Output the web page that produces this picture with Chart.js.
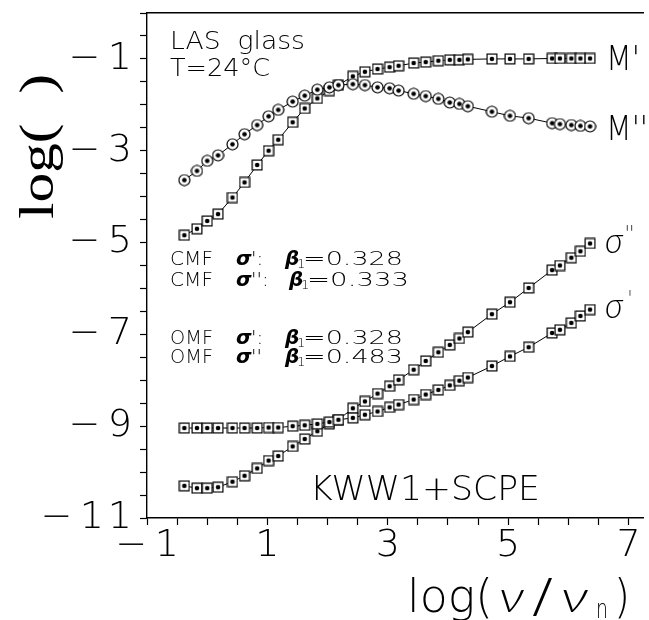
<!DOCTYPE html>
<html>
<head>
<meta charset="utf-8">
<script src="https://cdn.jsdelivr.net/npm/chart.js@4.4.1/dist/chart.umd.min.js"></script>
<style>
  html, body { margin: 0; padding: 0; background: #fff; }
  canvas { display: block; }
</style>
</head>
<body>
<canvas id="grafico" width="649" height="620"></canvas>
<script>
// frequenze (log10 nu/nu_n) comuni a tutte le serie
const logFreq = [-0.38, -0.17, 0, 0.18, 0.42, 0.62, 0.83, 1.02, 1.18, 1.42, 1.62, 1.83,
  2.03, 2.18, 2.42, 2.62, 2.83, 3.03, 3.18, 3.43, 3.63, 3.84, 4.03, 4.19, 4.33,
  4.73, 5.03, 5.34, 5.73, 5.86, 6.05, 6.2, 6.36];

// log M'
const logMreal = [-4.84, -4.70, -4.53, -4.38, -4.02, -3.69, -3.31, -3.00, -2.76, -2.38, -2.08, -1.86,
  -1.69, -1.57, -1.38, -1.28, -1.22, -1.18, -1.15, -1.09, -1.07, -1.04, -1.02, -1.02, -1.01,
  -1.00, -1.00, -1.00, -0.99, -0.99, -0.99, -0.99, -0.99];

// log M''
const logMimag = [-3.64, -3.44, -3.22, -3.10, -2.86, -2.64, -2.44, -2.25, -2.11, -1.93, -1.80, -1.67,
  -1.62, -1.57, -1.55, -1.57, -1.62, -1.64, -1.69, -1.76, -1.81, -1.87, -1.95, -1.98, -2.03,
  -2.15, -2.24, -2.29, -2.40, -2.42, -2.44, -2.46, -2.47];

// log sigma'
const logSigReal = [-9.04, -9.04, -9.04, -9.04, -9.04, -9.04, -9.04, -9.03, -9.03, -9.00, -8.98, -8.95,
  -8.91, -8.86, -8.82, -8.75, -8.68, -8.59, -8.53, -8.42, -8.31, -8.21, -8.11, -8.01, -7.94,
  -7.69, -7.48, -7.28, -6.97, -6.90, -6.75, -6.60, -6.46];

// log sigma''
const logSigImag = [-10.30, -10.35, -10.35, -10.33, -10.21, -10.08, -9.92, -9.75, -9.65, -9.44, -9.28, -9.11,
  -8.95, -8.86, -8.61, -8.46, -8.29, -8.13, -7.99, -7.77, -7.58, -7.39, -7.23, -7.09, -6.95,
  -6.56, -6.30, -5.99, -5.60, -5.50, -5.33, -5.19, -5.02];

// tacche con etichetta
const xTickValues = [-1, 1, 3, 5, 7];
const yTickValues = [-1, -3, -5, -7, -9, -11];

const FONT = '"DejaVu Sans"';
const GRECO = 'Lato, "Liberation Sans"';

// etichetta numerica con il meno tipografico staccato
function etichetta(v) {
  if (v >= 0) return String(v);
  return '\u2212\u2009' + String(-v).split('').join('\u200a');
}

// marker: quadrato o cerchio vuoto con punto pieno al centro
function marker(tipo) {
  const s = tipo === 'cerchio' ? 13 : 12;
  const c = document.createElement('canvas');
  c.width = s; c.height = s;
  const g = c.getContext('2d');
  g.fillStyle = '#fff';
  g.strokeStyle = '#000';
  g.lineWidth = 1.2;
  if (tipo === 'cerchio') {
    g.beginPath();
    g.arc(s / 2, s / 2, s / 2 - 1, 0, Math.PI * 2);
    g.fill();
    g.stroke();
  } else {
    g.fillRect(1, 1, s - 2, s - 2);
    g.strokeRect(1.1, 1.1, s - 2.2, s - 2.2);
  }
  g.fillStyle = '#000';
  g.beginPath();
  g.arc(s / 2, s / 2, 2.3, 0, Math.PI * 2);
  g.fill();
  return c;
}

const quadrato = marker('quadrato');
const cerchio = marker('cerchio');

function serie(valori, stile) {
  return {
    data: logFreq.map((x, i) => ({ x: x, y: valori[i] })),
    showLine: true,
    borderColor: '#000',
    borderWidth: 1,
    pointStyle: stile,
    pointRadius: 5,
    tension: 0
  };
}

// scrive un testo, eventualmente allargato fino a una larghezza data
function scrivi(ctx, txt, x, y, font, w) {
  ctx.save();
  ctx.font = font;
  const m = ctx.measureText(txt).width;
  ctx.translate(x, y);
  if (w) ctx.scale(w / m, 1);
  ctx.fillText(txt, 0, 0);
  ctx.restore();
}

const testi = {
  id: 'testi',
  afterDraw(chart) {
    const ctx = chart.ctx;
    ctx.save();
    ctx.fillStyle = '#000';
    ctx.textAlign = 'left';
    ctx.textBaseline = 'alphabetic';

    scrivi(ctx, 'LAS  glass', 170, 49, `200 25px ${FONT}`, 135);
    scrivi(ctx, 'T=24\u00b0C', 170, 76, `200 25px ${FONT}`, 100);

    // nomi delle curve
    scrivi(ctx, "M'", 606, 70, `200 33px ${FONT}`, 34);
    scrivi(ctx, "M''", 606, 140, `200 33px ${FONT}`, 42);
    scrivi(ctx, '\u03c3', 605, 253, `italic 300 36px ${GRECO}`, 18);
    scrivi(ctx, "''", 625, 241, `200 22px ${FONT}`, 9);
    scrivi(ctx, '\u03c3', 605, 318, `italic 300 36px ${GRECO}`, 18);
    scrivi(ctx, "'", 628, 306, `200 22px ${FONT}`, 4);

    // parametri dei fit
    const righe = [
      ['CMF', "':", '=0.328'],
      ['CMF', "'':", '=0.333'],
      ['OMF', "':", '=0.328'],
      ['OMF', "''", '=0.483']
    ];
    const basi = [265, 286, 344, 363];
    const xBeta = [285, 289, 285, 285];
    const xFine = [403, 409, 403, 403];
    righe.forEach((r, i) => {
      const y = basi[i];
      scrivi(ctx, r[0], 170, y, `200 20px ${FONT}`, 43);
      scrivi(ctx, '\u03c3', 236, y, `bold italic 20px ${FONT}`);
      scrivi(ctx, r[1], 251, y, `200 20px ${FONT}`);
      scrivi(ctx, '\u03b2', xBeta[i], y, `bold italic 20px ${FONT}`);
      scrivi(ctx, '1', xBeta[i] + 12, y + 3, `200 13px ${FONT}`);
      scrivi(ctx, r[2], xBeta[i] + 18, y, `200 20px ${FONT}`, xFine[i] - xBeta[i] - 18);
    });

    scrivi(ctx, 'KWW1+SCPE', 310, 500, `200 34px ${FONT}`, 230);

    // titolo asse x
    scrivi(ctx, 'log(', 407, 612, `200 46px ${FONT}`, 86);
    scrivi(ctx, '\u03bd', 499, 612, `italic 300 46px ${GRECO}`, 25);
    scrivi(ctx, '/', 532, 612, `200 46px ${FONT}`, 21);
    scrivi(ctx, '\u03bd', 561, 612, `italic 300 46px ${GRECO}`, 27);
    scrivi(ctx, 'n', 596, 618, `200 26px ${FONT}`, 12);
    scrivi(ctx, ')', 614, 612, `200 46px ${FONT}`, 16);

    // titolo asse y, ruotato
    ctx.save();
    ctx.translate(53, 219);
    ctx.rotate(-Math.PI / 2);
    scrivi(ctx, 'log(  )', 0, 0, '48px "Liberation Serif"', 145);
    ctx.restore();

    ctx.restore();
  }
};

// solo le tacche sui multipli di 0.5
function tacca(ctx) {
  const v = ctx.tick ? ctx.tick.value : NaN;
  return Math.abs(v * 2 - Math.round(v * 2)) < 1e-6 ? '#000' : 'rgba(0,0,0,0)';
}

const ctxGrafico = document.getElementById('grafico').getContext('2d');
const chart = new Chart(ctxGrafico, {
  type: 'scatter',
  data: {
    datasets: [
      serie(logSigReal, quadrato),
      serie(logSigImag, quadrato),
      serie(logMimag, cerchio),
      serie(logMreal, quadrato)
    ]
  },
  options: {
    responsive: false,
    animation: false,
    devicePixelRatio: 1,
    layout: { padding: { top: 13, right: 0, bottom: 0, left: 0 } },
    plugins: { legend: { display: false }, tooltip: { enabled: false } },
    scales: {
      x: {
        type: 'linear',
        position: 'bottom',
        min: -1,
        max: 7.24,
        afterFit: (s) => { s.height = 102; s.paddingLeft = 0; s.paddingRight = 0; },
        border: { display: true, color: '#000', width: 1.4 },
        grid: { display: true, drawOnChartArea: false, drawTicks: true, tickLength: 7, tickColor: tacca, tickWidth: 1.2 },
        ticks: {
          stepSize: 0.5,
          includeBounds: false,
          autoSkip: false,
          maxRotation: 0,
          padding: 2,
          color: '#000',
          font: { family: 'DejaVu Sans', size: 38, weight: 200, lineHeight: 1 },
          callback: (v) => xTickValues.includes(v) ? etichetta(v) : ''
        }
      },
      xTop: {
        type: 'linear',
        position: 'top',
        min: -1,
        max: 7.24,
        afterFit: (s) => { s.height = 0; s.paddingLeft = 0; s.paddingRight = 0; },
        border: { display: true, color: '#000', width: 1.4 },
        grid: { display: false },
        ticks: { display: false }
      },
      y: {
        type: 'linear',
        min: -11,
        max: 0,
        afterFit: (s) => { s.width = 147; s.paddingTop = 0; s.paddingBottom = 0; },
        border: { display: true, color: '#000', width: 1.4 },
        grid: { display: true, drawOnChartArea: false, drawTicks: true, tickLength: 7, tickColor: tacca, tickWidth: 1.2 },
        ticks: {
          stepSize: 0.5,
          autoSkip: false,
          padding: 8,
          color: '#000',
          font: { family: 'DejaVu Sans', size: 38, weight: 200, lineHeight: 1 },
          callback: (v) => yTickValues.includes(v) ? etichetta(v) : ''
        }
      }
    }
  },
  plugins: [testi]
});
</script>
</body>
</html>
